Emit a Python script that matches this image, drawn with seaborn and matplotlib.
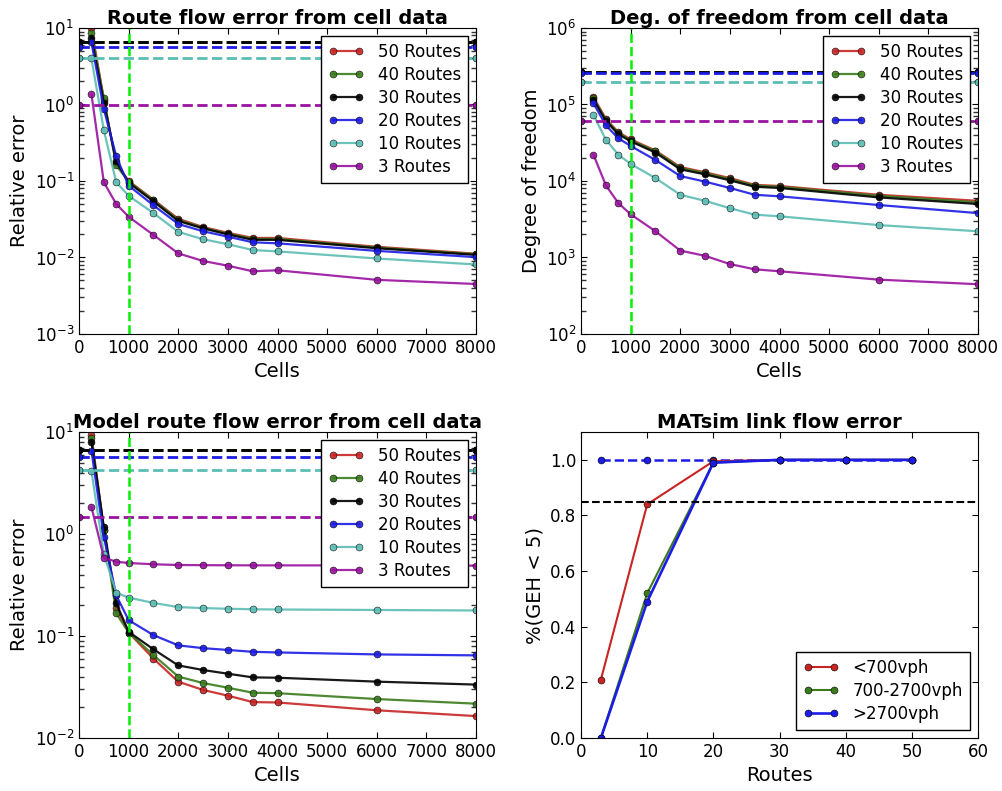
import numpy as np
import pandas as pd
import matplotlib
matplotlib.use("Agg")
import matplotlib.pyplot as plt
from matplotlib.ticker import LogLocator, NullFormatter
import seaborn as sns

# ---------------- data ----------------
cells = [250, 500, 750, 1000, 1500, 2000, 2500, 3000, 3500, 4000, 6000, 8000]
route_labels = ["50 Routes", "40 Routes", "30 Routes", "20 Routes", "10 Routes", "3 Routes"]
base_x = [0, 8000]
cut_cells = 1000

# route flow error from cell data
err_50 = [10.0, 1.15, 0.17, 0.100, 0.057, 0.032, 0.025, 0.021, 0.018, 0.018, 0.0138, 0.0112]
err_40 = [8.5, 1.20, 0.16, 0.098, 0.056, 0.031, 0.0245, 0.0205, 0.0175, 0.0175, 0.0135, 0.0110]
err_30 = [7.5, 1.05, 0.18, 0.095, 0.054, 0.030, 0.024, 0.020, 0.017, 0.017, 0.0132, 0.0108]
err_20 = [6.5, 0.87, 0.21, 0.087, 0.048, 0.0274, 0.022, 0.0187, 0.0158, 0.0153, 0.0122, 0.0101]
err_10 = [4.0, 0.46, 0.096, 0.064, 0.038, 0.0216, 0.0173, 0.0149, 0.0125, 0.0120, 0.0097, 0.0081]
err_3 = [1.36, 0.096, 0.050, 0.034, 0.0197, 0.0113, 0.0090, 0.0078, 0.0066, 0.0068, 0.0051, 0.0045]
err_base = [6.6, 6.6, 6.6, 5.7, 4.1, 0.98]

# degrees of freedom
dof_50 = [125000, 65000, 43500, 35000, 25000, 15200, 13000, 10900, 8900, 8600, 6600, 5500]
dof_40 = [120000, 63000, 42500, 34000, 24500, 14800, 12700, 10600, 8700, 8400, 6400, 5250]
dof_30 = [115000, 61000, 41000, 33000, 23500, 14200, 12200, 10200, 8400, 8100, 6100, 5000]
dof_20 = [104000, 53500, 36200, 28700, 18800, 11600, 9800, 8100, 6600, 6300, 4850, 3800]
dof_10 = [73000, 34700, 22100, 16700, 10900, 6600, 5500, 4400, 3630, 3450, 2650, 2200]
dof_3 = [22100, 8800, 5150, 3670, 2200, 1230, 1050, 820, 700, 660, 513, 447]
dof_base = [269000, 269000, 269000, 256000, 197000, 60800]

# model route flow error
mod_50 = [9.3, 1.10, 0.19, 0.108, 0.060, 0.0356, 0.0296, 0.026, 0.0225, 0.0223, 0.0187, 0.0164]
mod_40 = [8.7, 1.10, 0.167, 0.108, 0.065, 0.040, 0.0346, 0.0311, 0.0278, 0.0275, 0.0241, 0.0217]
mod_30 = [8.0, 1.17, 0.21, 0.110, 0.074, 0.0515, 0.0464, 0.0427, 0.0393, 0.0390, 0.0357, 0.0334]
mod_20 = [6.56, 0.94, 0.25, 0.143, 0.102, 0.081, 0.076, 0.073, 0.070, 0.069, 0.066, 0.0646]
mod_10 = [4.15, 0.64, 0.266, 0.238, 0.211, 0.192, 0.188, 0.185, 0.183, 0.182, 0.180, 0.178]
mod_3 = [1.84, 0.586, 0.535, 0.520, 0.505, 0.497, 0.495, 0.494, 0.493, 0.493, 0.492, 0.490]
mod_base = [6.6, 6.6, 6.6, 5.7, 4.2, 1.46]

# MATsim link flow error
routes = [3, 10, 20, 30, 40, 50]
geh_labels = ["<700vph", "700-2700vph", ">2700vph"]
geh_low = [0.21, 0.84, 0.995, 1.0, 1.0, 1.0]
geh_mid = [0.0, 0.52, 0.99, 1.0, 1.0, 1.0]
geh_high = [0.0, 0.49, 0.99, 1.0, 1.0, 1.0]
geh_base = [1.0, 1.0, 1.0, 1.0, 1.0, 1.0]
geh_target = 0.85

route_colors = ["#c82424", "#3a7c1c", "#000000", "#1c1ce6", "#5cbdb4", "#9a12a0"]
geh_colors = ["#c82424", "#3a7c1c", "#1c1ce6"]

# ---------------- style ----------------
sns.set_style("ticks", {"xtick.direction": "in", "ytick.direction": "in",
                        "xtick.top": True, "ytick.right": True,
                        "axes.edgecolor": "black", "text.color": "black",
                        "axes.labelcolor": "black", "xtick.color": "black",
                        "ytick.color": "black"})
plt.rcParams["font.family"] = ["DejaVu Sans"]
plt.rcParams["mathtext.default"] = "regular"
plt.rcParams["xtick.labelsize"] = 12
plt.rcParams["ytick.labelsize"] = 12
plt.rcParams["xtick.major.size"] = 4.5
plt.rcParams["ytick.major.size"] = 4.5

MS = 5
fig = plt.figure(figsize=(10.03, 7.91), dpi=100)
W, H = 0.3958, 0.3868
ax_tl = fig.add_axes([0.0788, 0.5778, W, H])
ax_tr = fig.add_axes([0.5793, 0.5778, W, H])
ax_bl = fig.add_axes([0.0788, 0.0670, W, H])
ax_br = fig.add_axes([0.5793, 0.0670, W, H])


def cell_panel(ax, series, base, title, ylabel, ylim):
    df = pd.DataFrame({"Cells": cells * len(series),
                       "value": np.concatenate(series),
                       "Routes": np.repeat(route_labels, len(cells))})
    sns.lineplot(data=df, x="Cells", y="value", hue="Routes", hue_order=route_labels,
                 palette=route_colors, marker="o", markersize=MS, markeredgecolor="k",
                 markeredgewidth=0.4, linewidth=1.6, alpha=0.9, errorbar=None,
                 legend=False, ax=ax)
    handles = list(ax.lines)
    for b, c in zip(base, route_colors):
        ax.plot(base_x, [b, b], "--", color=c, lw=2, marker="o", markersize=MS,
                markeredgecolor="k", markeredgewidth=0.4, clip_on=True)
    ax.axvline(cut_cells, color="#00f000", ls="--", lw=1.8)
    ax.set_yscale("log")
    ax.set_xlim(0, 8000)
    ax.set_ylim(*ylim)
    ax.set_xticks(range(0, 8001, 1000))
    ax.yaxis.set_minor_locator(LogLocator(base=10, subs=np.arange(2, 10)))
    ax.yaxis.set_minor_formatter(NullFormatter())
    ax.set_title(title, fontsize=14, fontweight="bold", pad=3)
    ax.set_xlabel("Cells", fontsize=14)
    ax.set_ylabel(ylabel, fontsize=14)
    ax.tick_params(which="both", top=True, right=True, direction="in")
    ax.tick_params(axis="y", which="minor", length=3.5, width=1.0, color="#333333",
                   left=True, right=True)
    leg = ax.legend(handles, route_labels, loc="upper right", numpoints=2,
                    fontsize=12, fancybox=False, framealpha=1, borderaxespad=0.5,
                    handlelength=2.2, labelspacing=0.3)
    leg.get_frame().set_edgecolor("black")
    leg.get_frame().set_linewidth(1.0)


cell_panel(ax_tl, [err_50, err_40, err_30, err_20, err_10, err_3], err_base,
           "Route flow error from cell data", "Relative error", (1e-3, 1e1))
cell_panel(ax_tr, [dof_50, dof_40, dof_30, dof_20, dof_10, dof_3], dof_base,
           "Deg. of freedom from cell data", "Degree of freedom", (1e2, 1e6))
cell_panel(ax_bl, [mod_50, mod_40, mod_30, mod_20, mod_10, mod_3], mod_base,
           "Model route flow error from cell data", "Relative error", (1e-2, 1e1))

# MATsim panel
gdf = pd.DataFrame({"Routes": routes * 3,
                    "share": np.concatenate([geh_low, geh_mid, geh_high]),
                    "band": np.repeat(geh_labels, len(routes))})
sns.lineplot(data=gdf, x="Routes", y="share", hue="band", hue_order=geh_labels,
             palette=geh_colors, marker="o", markersize=MS, markeredgecolor="k",
             markeredgewidth=0.4, linewidth=1.5, errorbar=None, legend=False, ax=ax_br)
ax_br.lines[2].set_linewidth(1.9)
g_handles = list(ax_br.lines)
ax_br.plot(routes, geh_base, "--", color=geh_colors[2], lw=1.8, marker="o",
           markersize=MS, markeredgecolor="k", markeredgewidth=0.4, zorder=1)
ax_br.axhline(geh_target, color="k", ls="--", lw=1.5)
ax_br.set_xlim(0, 60)
ax_br.set_ylim(0, 1.1)
ax_br.set_xticks(range(0, 61, 10))
ax_br.set_yticks(np.arange(0, 1.01, 0.2))
ax_br.set_yticklabels([f"{v:.1f}" for v in np.arange(0, 1.01, 0.2)])
ax_br.set_title("MATsim link flow error", fontsize=14, fontweight="bold", pad=3)
ax_br.set_xlabel("Routes", fontsize=14)
ax_br.set_ylabel("%(GEH < 5)", fontsize=14)
ax_br.tick_params(which="both", top=True, right=True, direction="in")
leg = ax_br.legend(g_handles, geh_labels, loc="lower right", numpoints=2, fontsize=12,
                   fancybox=False, framealpha=1, borderaxespad=0.5, handlelength=2.2,
                   labelspacing=0.3)
leg.get_frame().set_edgecolor("black")

fig.savefig("out.png", dpi=100)
